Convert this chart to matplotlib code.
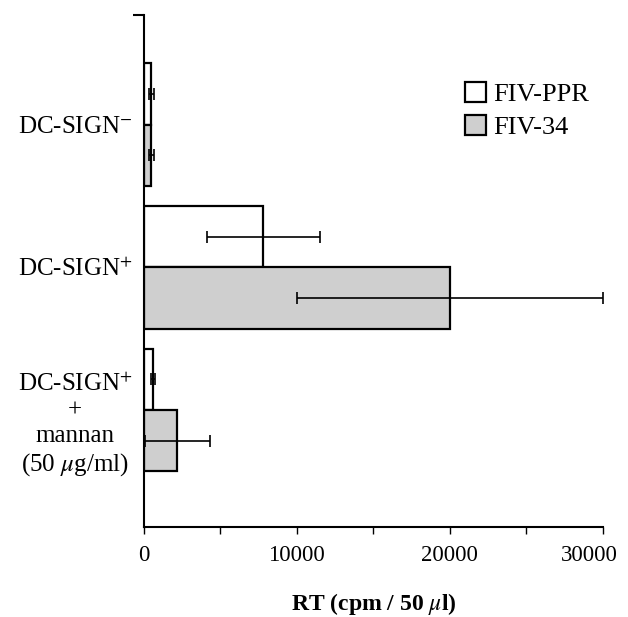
import matplotlib.pyplot as plt
import matplotlib.transforms as mtransforms
import numpy as np

plt.rcParams['font.family'] = ['Liberation Serif', 'DejaVu Serif']
plt.rcParams['mathtext.fontset'] = 'stix'

groups = ['DC-SIGN$^{-}$', 'DC-SIGN$^{+}$', 'DC-SIGN$^{+}$\n+\nmannan\n(50 $\\mu$g/ml)']
ppr_vals = [500, 7800, 600]
ppr_err = [150, 3700, 150]
fiv34_vals = [500, 20000, 2200]
fiv34_err = [150, 10000, 2100]

fig = plt.figure(figsize=(6.28, 6.17), dpi=100)
ax = fig.add_axes([0.229, 0.146, 0.731, 0.830])

pos = np.array([2, 1, 0])
h = 0.43
ax.barh(pos + h / 2, ppr_vals, height=h, color='white', edgecolor='black', linewidth=1.6, label='FIV-PPR')
ax.barh(pos - h / 2, fiv34_vals, height=h, color='#cfcfcf', edgecolor='black', linewidth=1.6, label='FIV-34')
ax.errorbar(ppr_vals, pos + h / 2, xerr=ppr_err, fmt='none', ecolor='black', elinewidth=1.2, capsize=4, capthick=1.2)
ax.errorbar(fiv34_vals, pos - h / 2, xerr=fiv34_err, fmt='none', ecolor='black', elinewidth=1.2, capsize=4, capthick=1.2)

ax.set_xlim(0, 30000)
ax.set_ylim(-0.82, 2.77)
ax.set_xticks([0, 10000, 20000, 30000])
ax.set_xticks([5000, 15000, 25000], minor=True)
ax.tick_params(axis='x', which='both', direction='out', length=5, width=1, labelsize=16.5, pad=8)
# last tick label sits a bit left of its tick, like the original
lab = ax.get_xticklabels()[-1]
lab.set_transform(lab.get_transform() + mtransforms.ScaledTranslation(-14 / 100, 0, fig.dpi_scale_trans))

ax.set_yticks(pos)
ax.set_yticklabels(groups, fontsize=18, multialignment='center', linespacing=1.2)
ax.tick_params(axis='y', which='major', length=0, pad=8)
ylab = ax.get_yticklabels()[-1]
ylab.set_transform(ylab.get_transform() + mtransforms.ScaledTranslation(0, -10 / 100, fig.dpi_scale_trans))
ax.set_yticks([2.77], minor=True)
ax.tick_params(axis='y', which='minor', length=8, width=1.5)

for s in ['top', 'right']:
    ax.spines[s].set_visible(False)
ax.spines['left'].set_linewidth(1.5)
ax.spines['bottom'].set_linewidth(1.5)

ax.set_xlabel('RT (cpm / 50 $\\mu$l)', fontsize=17, fontweight='bold', labelpad=18)
ax.legend(loc='upper left', bbox_to_anchor=(0.677, 0.89), frameon=False, fontsize=19,
          handlelength=0.8, handleheight=0.8, handletextpad=0.25, labelspacing=0.35, borderaxespad=0)

fig.savefig('out.png', dpi=100)
